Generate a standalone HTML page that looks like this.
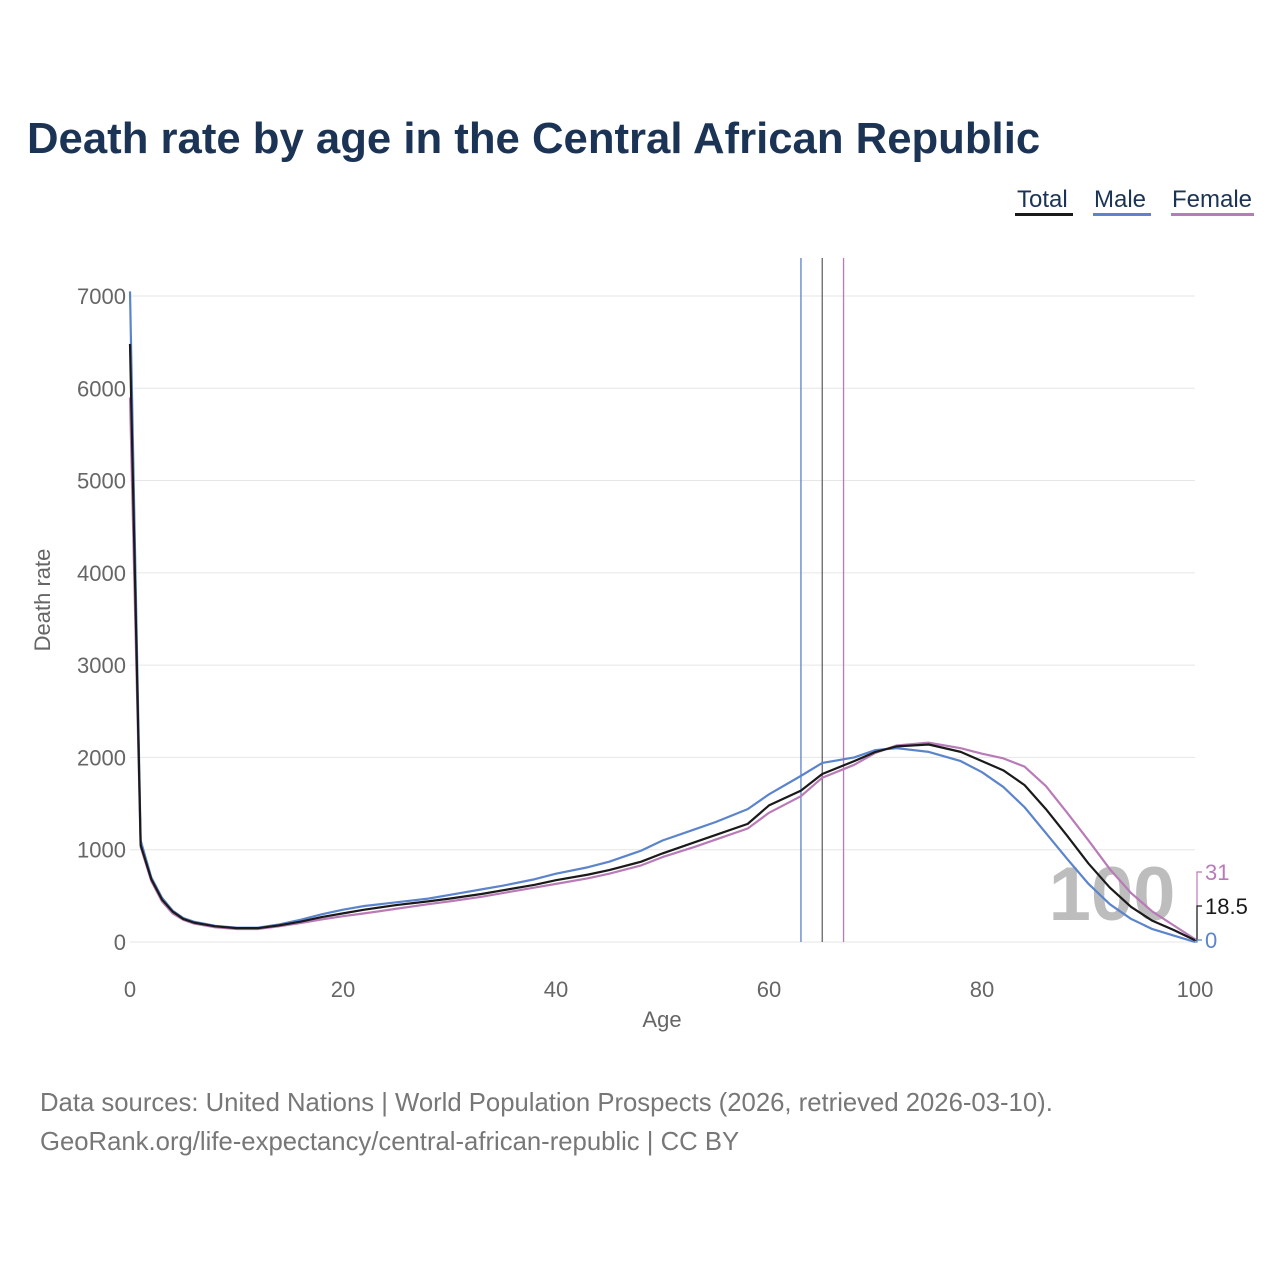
<!DOCTYPE html>
<html><head><meta charset="utf-8"><style>
body{margin:0;background:#fff;font-family:"Liberation Sans",sans-serif;}
svg text{font-family:"Liberation Sans",sans-serif;}
</style></head><body>
<svg width="1280" height="1280" viewBox="0 0 1280 1280">
<text x="27" y="153" font-size="43.7" font-weight="bold" fill="#1b3354">Death rate by age in the Central African Republic</text>
<g>
<text x="1017" y="207" font-size="24" fill="#1b3354">Total</text>
<rect x="1015" y="213" width="58" height="3" fill="#1a1a1a"/>
<text x="1094" y="207" font-size="24" fill="#1b3354">Male</text>
<rect x="1093" y="213" width="58" height="3" fill="#5b84cc"/>
<text x="1172" y="207" font-size="24" fill="#1b3354">Female</text>
<rect x="1171" y="213" width="83" height="3" fill="#b97ab8"/>
</g>
<g id="grid"></g>
<g id="axes"></g>
<text x="1112" y="920" font-size="76" font-weight="bold" fill="#bdbdbd" text-anchor="middle">100</text>
<g id="vlines"></g>
<g id="series"></g>
<g id="endlabels"></g>
<text x="662" y="1027" font-size="22" fill="#666" text-anchor="middle">Age</text>
<text x="50" y="600" font-size="22" fill="#666" text-anchor="middle" transform="rotate(-90 50 600)">Death rate</text>
<text x="40" y="1111" font-size="25.7" fill="#777">Data sources: United Nations | World Population Prospects (2026, retrieved 2026-03-10).</text>
<text x="40" y="1150" font-size="25.7" fill="#777">GeoRank.org/life-expectancy/central-african-republic | CC BY</text>
</svg>
<script>
const ages=[0,1,2,3,4,5,6,8,10,12,14,16,18,20,22,25,28,30,33,35,38,40,43,45,48,50,53,55,58,60,63,65,68,70,72,75,78,80,82,84,86,88,90,92,94,96,98,100];
const total=[6480,1050,680,460,330,250,210,170,150,150,180,220,270,310,350,400,440,470,520,560,620,670,730,780,870,960,1080,1160,1280,1480,1640,1820,1960,2060,2120,2140,2060,1960,1860,1700,1440,1150,850,590,380,230,130,18.5];
const male=[7050,1100,700,480,340,260,220,175,155,155,190,240,300,350,390,430,470,510,570,610,680,740,810,870,990,1100,1220,1300,1440,1600,1800,1940,2000,2080,2100,2060,1960,1840,1680,1460,1180,900,630,410,250,140,70,0];
const female=[5900,1030,660,440,310,240,200,160,140,140,170,205,245,280,310,360,410,440,490,530,590,630,690,740,830,920,1030,1110,1230,1400,1580,1780,1920,2050,2130,2160,2100,2040,1990,1900,1690,1400,1100,790,530,330,180,31];
const lifeExp=[63,65,67];
const yTicks=[0,1000,2000,3000,4000,5000,6000,7000];
const xTicks=[0,20,40,60,80,100];
const NS="http://www.w3.org/2000/svg";
const X=a=>130+a*10.65, Y=v=>942-v*0.09229;
function mk(t,at,p){const e=document.createElementNS(NS,t);for(const k in at)e.setAttribute(k,at[k]);p.appendChild(e);return e;}
const grid=document.getElementById('grid'),axes=document.getElementById('axes');
yTicks.forEach(v=>{
 const l=mk('line',{x1:130,x2:1195,y1:Y(v),y2:Y(v),stroke:'#e6e6e6','stroke-width':1},grid);
 
 
 const t=mk('text',{x:126,y:Y(v)+8,'font-size':22,fill:'#666','text-anchor':'end'},axes);
 t.textContent=v;
 
 
});
xTicks.forEach(v=>{
 const t=mk('text',{x:X(v),y:997,'font-size':22,fill:'#666','text-anchor':'middle'},axes);
 t.textContent=v;
 
 
});
const cols=['#5b84cc','#666','#b97ab8'];
const vl=document.getElementById('vlines');
lifeExp.forEach((a,i)=>{
 const l=mk('line',{x1:X(a),x2:X(a),y1:258,y2:942,stroke:cols[i],'stroke-width':1.3},vl);
 
 
});
const sg=document.getElementById('series');
[[female,'#b97ab8','female-line'],[male,'#5b84cc','male-line'],[total,'#1a1a1a','total-line']].forEach(([d,c,n])=>{
 const p=mk('polyline',{points:ages.map((a,i)=>X(a)+','+Y(d[i])).join(' '),fill:'none',stroke:c,'stroke-width':2.2,'stroke-linejoin':'round'},sg);
 
 
});
const el=document.getElementById('endlabels');
[[female[female.length-1],'#b97ab8',872],[total[total.length-1],'#1a1a1a',906],[male[male.length-1],'#5b84cc',940]].forEach(([v,c,ly])=>{
 const p=mk('polyline',{points:`1195,${Y(v)} 1197,${Y(v)} 1197,${ly} 1202,${ly}`,fill:'none',stroke:c,'stroke-width':1.2},el);
 
 
 const t=mk('text',{x:1205,y:ly+8,'font-size':22,fill:c},el);
 t.textContent=v;
 
 
});
</script>
</body></html>
